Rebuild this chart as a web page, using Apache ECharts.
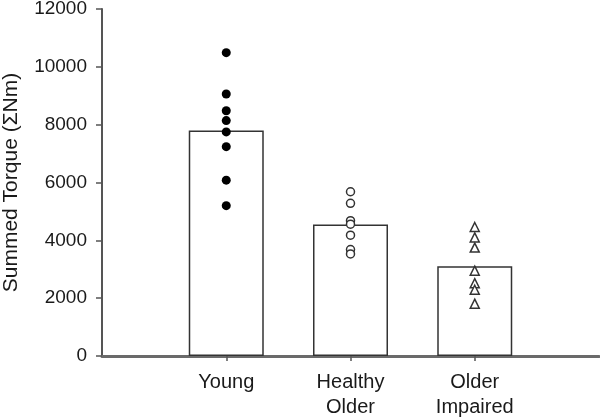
<!DOCTYPE html>
<html>
<head>
<meta charset="utf-8">
<script src="https://cdn.jsdelivr.net/npm/echarts@6/dist/echarts.min.js"></script>
<style>html,body{margin:0;padding:0;background:#fff;}#chart{width:600px;height:420px;}</style>
</head>
<body>
<div id="chart"></div>
<script>
// Categories (empty slots at both ends give the axis its margins)
const categories = ['', 'Young', 'Healthy\nOlder', 'Older\nImpaired', ' '];
// Bar (group mean) values
const barValues = ['-', 7800, 4550, 3100, '-'];
// Individual subject values
const young = [10490, 9060, 8480, 8140, 7750, 7240, 6080, 5200];
const healthyOlder = [5680, 5280, 4680, 4560, 4180, 3680, 3530];
const olderImpaired = [4460, 4100, 3750, 2950, 2520, 2290, 1810];
// Y axis ticks
const yMin = 0, yMax = 12000, yStep = 2000;
const yName = 'Summed Torque (ΣNm)';

const font = 'Arial, Liberation Sans, sans-serif';
const chart = echarts.init(document.getElementById('chart'), null, {renderer: 'canvas'});
chart.setOption({
  animation: false,
  backgroundColor: '#fff',
  grid: {left: 102, right: 1, top: 9, bottom: 64, containLabel: false, outerBoundsMode: 'none'},
  xAxis: {
    type: 'category',
    data: categories,
    boundaryGap: false,
    axisLine: {lineStyle: {color: '#6a6a6a', width: 3}},
    axisTick: {length: 5, lineStyle: {color: '#555', width: 1.5},
      interval: function (i, v) { return v.trim() !== ''; }},
    axisLabel: {color: '#1a1a1a', fontSize: 20, fontFamily: font, lineHeight: 25, margin: 14,
      interval: 0, align: 'center'},
    splitLine: {show: false}
  },
  yAxis: {
    type: 'value',
    min: yMin, max: yMax, interval: yStep,
    name: yName,
    nameLocation: 'middle',
    nameRotate: 90,
    nameGap: 80,
    nameTextStyle: {color: '#1a1a1a', fontSize: 21, fontFamily: font},
    axisLine: {show: true, lineStyle: {color: '#555', width: 2}},
    axisTick: {show: true, length: 6, lineStyle: {color: '#555', width: 1.5}},
    axisLabel: {color: '#1a1a1a', fontSize: 19, fontFamily: font, margin: 15,
      formatter: function (v) { return String(v); }},
    splitLine: {show: false}
  },
  series: [
    {
      type: 'bar',
      data: barValues,
      barWidth: 75,
      itemStyle: {color: '#fff', borderColor: '#333', borderWidth: 1.5},
      z: 1
    },
    {
      type: 'scatter',
      data: young.map(v => [1, v]),
      symbol: 'circle',
      symbolSize: 9,
      itemStyle: {color: '#000', opacity: 1},
      z: 3
    },
    {
      type: 'scatter',
      data: healthyOlder.map(v => [2, v]),
      symbol: 'circle',
      symbolSize: 8,
      itemStyle: {color: '#fff', borderColor: '#333', borderWidth: 1.5, opacity: 1},
      z: 3
    },
    {
      type: 'scatter',
      data: olderImpaired.map(v => [3, v]),
      symbol: 'triangle',
      symbolSize: 9,
      itemStyle: {color: '#fff', borderColor: '#333', borderWidth: 1.5, opacity: 1},
      z: 3
    }
  ]
});
</script>
</body>
</html>
